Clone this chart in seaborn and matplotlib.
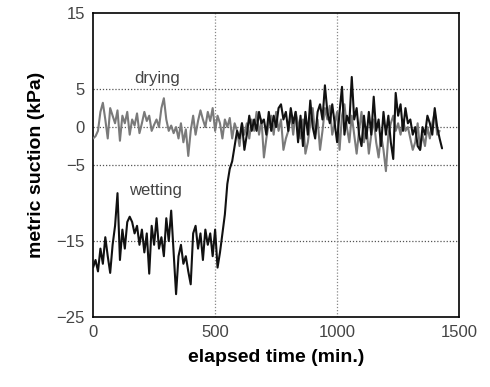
import numpy as np
import pandas as pd
import matplotlib
matplotlib.use("Agg")
import matplotlib.pyplot as plt
import seaborn as sns

# ---- data ----
drying_t = list(range(0, 1430, 10))
drying_v = [-1.5, -1.2, -0.5, 2.0, 3.2, 1.0, -1.5, 2.5, 1.5, 0.5,
            2.2, -1.8, 1.5, 0.5, 2.0, -1.0, 1.0, 0.2, 1.8, -0.8,
            0.5, 2.0, 0.8, 1.5, -0.5, 0.3, 1.0, 0.0, 2.5, 3.8,
            1.0, -0.5, 0.2, -0.8, 0.0, -1.5, 0.5, -2.0, -0.3, -3.8,
            -0.5, 1.5, -1.0, 0.8, 2.2, 1.0, 0.0, 2.0, 0.8, 2.5,
            -0.5, 1.5, 0.5, -1.5, 1.0, 0.0, 1.2, -1.5, 0.5, -0.5,
            -2.5, 0.5, -1.0, 0.5, -1.5, 1.0, -0.5, 2.0, -1.0, 1.0,
            -4.0, -1.5, 0.5, 1.5, -1.0, 2.0, -0.5, 1.0, -3.0, -1.5,
            -0.5, 1.8, -1.0, 2.0, 0.5, -1.5, 1.0, -3.5, -2.0, 0.5,
            2.5, -1.0, 1.0, -3.0, -0.5, 2.5, 1.0, 2.8, -1.0, 0.5,
            2.0, -3.0, 1.5, 3.0, 0.0, -2.0, 1.5, -1.0, -3.5, -0.5,
            2.0, -2.0, 0.0, -3.5, -1.0, 1.0, -2.0, -4.0, -1.0, -3.0,
            -5.8, -1.0, 0.5, 1.5, -0.5, 0.5, -1.0, 1.0, -0.5, 0.0,
            -1.5, -3.0, -2.0, 0.5, -3.0, -1.0, -2.5, 0.0, -1.5, 0.5,
            2.0, -1.0, -0.5]

wetting_t = list(range(0, 1440, 10))
wetting_v = [-18.5, -17.5, -19.0, -16.0, -18.0, -14.5, -17.0, -19.2, -15.5, -13.0,
             -8.7, -17.5, -13.5, -16.0, -12.5, -11.8, -12.5, -14.0, -13.0, -15.5,
             -13.5, -16.5, -14.0, -19.3, -13.0, -15.5, -12.0, -16.0, -14.5, -17.0,
             -12.0, -15.0, -11.0, -16.5, -22.0, -17.0, -15.5, -18.0, -17.0, -19.0,
             -20.7, -14.0, -13.0, -16.0, -14.0, -17.5, -13.5, -15.5, -14.0, -17.0,
             -13.5, -18.5, -16.5, -14.0, -11.5, -7.5, -5.5, -4.5, -2.5, -0.5,
             -1.5, 0.5, -3.0, -1.0, 1.5, -0.5, 1.0, -0.5, 2.0, 0.5,
             1.0, -1.0, 2.0, -0.5, 1.5, 0.0, 2.5, 3.0, 1.0, 2.0,
             -0.5, 2.5, 0.5, 2.0, -2.0, 1.5, -2.5, 2.0, -1.0, 3.5,
             0.0, -1.5, 2.0, 3.0, 1.0, 5.5, 2.0, 0.5, 3.0, 0.5,
             -2.0, 2.0, 5.3, -1.0, 1.5, 0.5, 6.6, 1.0, 2.5, -1.0,
             -2.5, 1.5, -1.5, 2.0, -1.0, 4.0, -0.5, 1.0, -2.5, 2.0,
             -1.0, 1.5, -2.0, -4.2, 4.5, 1.5, 3.0, -0.5, 2.5, 0.5,
             1.0, -1.0, 0.0, -2.5, -3.0, 0.0, -1.0, 1.5, 0.5, -1.0,
             2.5, 0.0, -1.5, -2.8]

x_ticks = [0, 500, 1000, 1500]
y_ticks = [-25, -15, -5, 0, 5, 15]

df = pd.concat([
    pd.DataFrame({"t": drying_t, "v": drying_v, "series": "drying"}),
    pd.DataFrame({"t": wetting_t, "v": wetting_v, "series": "wetting"}),
])

sns.set_theme(style="white")
plt.rcParams["font.family"] = ["Liberation Sans", "DejaVu Sans"]

fig = plt.figure(figsize=(4.9, 3.87), dpi=100)
ax = fig.add_axes([0.190, 0.181, 0.747, 0.785])

sns.lineplot(data=df, x="t", y="v", hue="series",
             palette={"drying": "#7a7a7a", "wetting": "#111111"},
             linewidth=1.5, legend=False, ax=ax, sort=False, zorder=3)

ax.set_xlim(0, 1500)
ax.set_ylim(-25, 15)
ax.set_xticks(x_ticks)
ax.set_yticks(y_ticks)
ax.set_xticklabels([str(v) for v in x_ticks], fontsize=12, color="#444444")
ax.set_yticklabels([str(v).replace("-", "\u2212") for v in y_ticks], fontsize=12, color="#444444")
ax.tick_params(length=0, pad=6)

for y in [5, 0, -5, -15]:
    ax.axhline(y, color="#555555", linestyle=(0, (1, 1.5)), linewidth=0.9, zorder=1)
for x in [500, 1000]:
    ax.axvline(x, color="#888888", linestyle=(0, (1, 1.5)), linewidth=0.9, zorder=1)

for s in ax.spines.values():
    s.set_color("black")
    s.set_linewidth(1.2)

ax.set_xlabel("elapsed time (min.)", fontsize=14, fontweight="bold", color="black", labelpad=6)
ax.set_ylabel("metric suction (kPa)", fontsize=14, fontweight="bold", color="black", labelpad=8)

ax.text(262, 6.4, "drying", fontsize=12, color="#444444", ha="center", va="center")
ax.text(254, -8.3, "wetting", fontsize=12, color="#444444", ha="center", va="center")

fig.savefig("out.png", dpi=100)
